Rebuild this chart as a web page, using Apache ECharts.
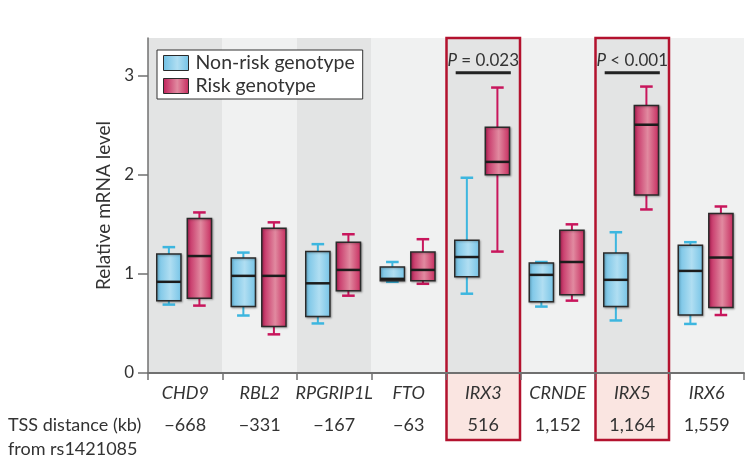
<!DOCTYPE html>
<html>
<head>
<meta charset="utf-8">
<script src="https://cdn.jsdelivr.net/npm/echarts@6/dist/echarts.min.js"></script>
<style>
  html, body { margin: 0; padding: 0; background: #ffffff; }
  #chart { width: 752px; height: 460px; }
</style>
</head>
<body>
<div id="chart"></div>
<script>
// Genes around the FTO locus, ordered by TSS distance from rs1421085
const genes = ['CHD9', 'RBL2', 'RPGRIP1L', 'FTO', 'IRX3', 'CRNDE', 'IRX5', 'IRX6'];
const tssDistance = ['\u2212668', '\u2212331', '\u2212167', '\u221263', '516', '1,152', '1,164', '1,559'];

// Box statistics per gene: [min, Q1, median, Q3, max]
const nonRiskStats = [
  [0.69, 0.73, 0.92, 1.20, 1.27],
  [0.58, 0.67, 0.98, 1.16, 1.215],
  [0.50, 0.57, 0.905, 1.225, 1.30],
  [0.92, 0.93, 0.95, 1.07, 1.12],
  [0.80, 0.97, 1.17, 1.34, 1.97],
  [0.67, 0.72, 0.99, 1.11, 1.12],
  [0.53, 0.67, 0.94, 1.21, 1.42],
  [0.495, 0.585, 1.03, 1.29, 1.32]
];
const riskStats = [
  [0.68, 0.755, 1.18, 1.56, 1.62],
  [0.39, 0.47, 0.98, 1.46, 1.52],
  [0.78, 0.83, 1.04, 1.32, 1.40],
  [0.90, 0.93, 1.04, 1.22, 1.35],
  [1.225, 2.00, 2.13, 2.48, 2.88],
  [0.73, 0.79, 1.12, 1.44, 1.50],
  [1.65, 1.795, 2.505, 2.70, 2.89],
  [0.585, 0.66, 1.165, 1.61, 1.68]
];

// Genes with a significant difference and their P values
const significantGenes = ['IRX3', 'IRX5'];
const pValueTexts = [' = 0.023', ' < 0.001'];
const pValueLevel = 3.15;
const pBarLevel = 3.03;

const yTicks = [0, 1, 2, 3];
const yMax = 3.38;

const FONT = 'Lato';
const TEXT = '#333333';
const AXIS = '#707070';

const blueFill = new echarts.graphic.LinearGradient(0, 0, 1, 0, [
  { offset: 0, color: '#6fc0e4' },
  { offset: 0.55, color: '#b0def2' },
  { offset: 1, color: '#74c3e6' }
]);
const redFill = new echarts.graphic.LinearGradient(0, 0, 1, 0, [
  { offset: 0, color: '#c0205a' },
  { offset: 0.55, color: '#e18aa0' },
  { offset: 1, color: '#c6295d' }
]);

function boxRenderer(offset, fill, whiskerColor) {
  return function (params, api) {
    const idx = api.value(0);
    const band = api.size([1, 0])[0];
    const cx = api.coord([idx, 0])[0] + offset * band;
    const w = band * 0.325;
    const cap = w * 0.52;
    const y = (v) => api.coord([idx, v])[1];
    const yMin = y(api.value(1));
    const yQ1 = y(api.value(2));
    const yMed = y(api.value(3));
    const yQ3 = y(api.value(4));
    const yTop = y(api.value(5));
    const whisker = { stroke: whiskerColor, lineWidth: 2 };
    const capStyle = { stroke: whiskerColor, lineWidth: 2.5 };
    return {
      type: 'group',
      children: [
        { type: 'line', shape: { x1: cx, y1: yTop, x2: cx, y2: yQ3 }, style: whisker },
        { type: 'line', shape: { x1: cx, y1: yQ1, x2: cx, y2: yMin }, style: whisker },
        { type: 'line', shape: { x1: cx - cap / 2, y1: yTop, x2: cx + cap / 2, y2: yTop }, style: capStyle },
        { type: 'line', shape: { x1: cx - cap / 2, y1: yMin, x2: cx + cap / 2, y2: yMin }, style: capStyle },
        {
          type: 'rect',
          shape: { x: cx - w / 2, y: yQ3, width: w, height: yQ1 - yQ3 },
          style: { fill: fill, stroke: '#2a2a2a', lineWidth: 1.5, shadowBlur: 2, shadowColor: 'rgba(0,0,0,0.25)', shadowOffsetX: 1, shadowOffsetY: 1 }
        },
        { type: 'line', shape: { x1: cx - w / 2, y1: yMed, x2: cx + w / 2, y2: yMed }, style: { stroke: '#1c1c1c', lineWidth: 2.5 } }
      ]
    };
  };
}

// Alternating grey bands, one per gene
function bandRenderer(params, api) {
  const idx = api.value(0);
  const band = api.size([1, 0])[0];
  const cx = api.coord([idx, 0])[0];
  const top = api.coord([idx, yMax])[1];
  const bottom = api.coord([idx, 0])[1];
  return {
    type: 'rect',
    shape: { x: cx - band / 2, y: top, width: band, height: bottom - top },
    style: { fill: idx % 2 === 0 ? '#e3e4e4' : '#f0f1f1' }
  };
}

// Red frame around significant genes, reaching down over the TSS row
function highlightRenderer(params, api) {
  const idx = api.value(0);
  const band = api.size([1, 0])[0];
  const cx = api.coord([idx, 0])[0];
  const top = api.coord([idx, yMax])[1];
  const axisY = api.coord([idx, 0])[1];
  const bottom = axisY + 67;
  const textY = api.coord([idx, pValueLevel])[1];
  const barY = api.coord([idx, pBarLevel])[1];
  const barHalf = band * 0.37;
  return {
    type: 'group',
    children: [
      { type: 'rect', shape: { x: cx - band / 2, y: axisY + 1, width: band, height: bottom - axisY - 1 }, style: { fill: '#fae5e1' } },
      { type: 'rect', shape: { x: cx - band / 2 + 0.5, y: top, width: band - 1, height: bottom - top }, style: { fill: 'none', stroke: '#b3122e', lineWidth: 2.5 } },
      {
        type: 'text',
        x: cx, y: textY,
        style: {
          text: '{p|P}' + pValueTexts[params.dataIndex],
          align: 'center', verticalAlign: 'middle',
          fontFamily: FONT, fontSize: 17, fill: TEXT,
          rich: { p: { fontStyle: 'italic', fontFamily: FONT, fontSize: 17, fill: TEXT } }
        }
      },
      { type: 'line', shape: { x1: cx - barHalf, y1: barY, x2: cx + barHalf, y2: barY }, style: { stroke: '#222222', lineWidth: 3 } }
    ]
  };
}

const chart = echarts.init(document.getElementById('chart'), null, { renderer: 'canvas' });

chart.setOption({
  animation: false,
  backgroundColor: '#ffffff',
  textStyle: { fontFamily: FONT },
  grid: { left: 148, right: 8, top: 38, bottom: 87 },
  legend: {
    left: 157, top: 50,
    orient: 'vertical',
    selectedMode: false,
    backgroundColor: '#ffffff',
    borderColor: '#333333',
    borderWidth: 1,
    borderRadius: 0,
    padding: [3, 8, 3, 6],
    itemGap: 3,
    itemWidth: 25,
    itemHeight: 15,
    icon: 'rect',
    textStyle: { fontFamily: FONT, fontSize: 19.5, color: TEXT, padding: [0, 0, 0, 2] },
    data: [
      { name: 'Non-risk genotype', itemStyle: { color: blueFill, borderColor: '#2a2a2a', borderWidth: 1 } },
      { name: 'Risk genotype', itemStyle: { color: redFill, borderColor: '#2a2a2a', borderWidth: 1 } }
    ]
  },
  xAxis: {
    type: 'category',
    data: genes,
    boundaryGap: true,
    z: 3,
    axisLine: { lineStyle: { color: AXIS, width: 2 } },
    axisTick: { show: true, length: 7, lineStyle: { color: AXIS, width: 1.5 } },
    axisLabel: {
      interval: 0,
      margin: 4,
      formatter: (value, index) => '{g|' + value + '}\n{d|' + tssDistance[index] + '}',
      rich: {
        g: { fontFamily: FONT, fontStyle: 'italic', fontSize: 18, lineHeight: 32, color: TEXT },
        d: { fontFamily: FONT, fontSize: 18, lineHeight: 32, color: TEXT }
      }
    },
    splitLine: { show: false }
  },
  yAxis: {
    type: 'value',
    min: 0, max: yMax, interval: 1,
    z: 3,
    name: 'Relative mRNA level',
    nameLocation: 'middle',
    nameGap: 25,
    nameTextStyle: { fontFamily: FONT, fontSize: 19, color: TEXT },
    axisLine: { show: true, lineStyle: { color: AXIS, width: 1.5 } },
    axisTick: { show: true, length: 10, customValues: yTicks, lineStyle: { color: AXIS, width: 1.5 } },
    axisLabel: { customValues: yTicks, margin: 14, fontFamily: FONT, fontSize: 17, color: TEXT },
    splitLine: { show: false }
  },
  graphic: [
    {
      type: 'text', left: 8, top: 413, z: 10,
      style: { text: 'TSS distance (kb)\nfrom rs1421085', fontFamily: FONT, fontSize: 18, lineHeight: 24, fill: TEXT }
    }
  ],
  series: [
    {
      type: 'custom', name: 'bands', z: 1, silent: true,
      renderItem: bandRenderer,
      encode: { x: 0, y: 1 },
      data: genes.map((g, i) => [i, 0])
    },
    {
      type: 'custom', name: 'significance', z: 2, silent: true, clip: false,
      renderItem: highlightRenderer,
      encode: { x: 0, y: 1 },
      data: significantGenes.map(g => [genes.indexOf(g), 0])
    },
    {
      type: 'custom', name: 'Non-risk genotype', z: 4,
      itemStyle: { color: blueFill },
      renderItem: boxRenderer(-0.22, blueFill, '#3db6df'),
      encode: { x: 0, y: [1, 2, 3, 4, 5] },
      data: nonRiskStats.map((s, i) => [i].concat(s))
    },
    {
      type: 'custom', name: 'Risk genotype', z: 4,
      itemStyle: { color: redFill },
      renderItem: boxRenderer(0.19, redFill, '#c8165c'),
      encode: { x: 0, y: [1, 2, 3, 4, 5] },
      data: riskStats.map((s, i) => [i].concat(s))
    }
  ]
});
</script>
</body>
</html>
